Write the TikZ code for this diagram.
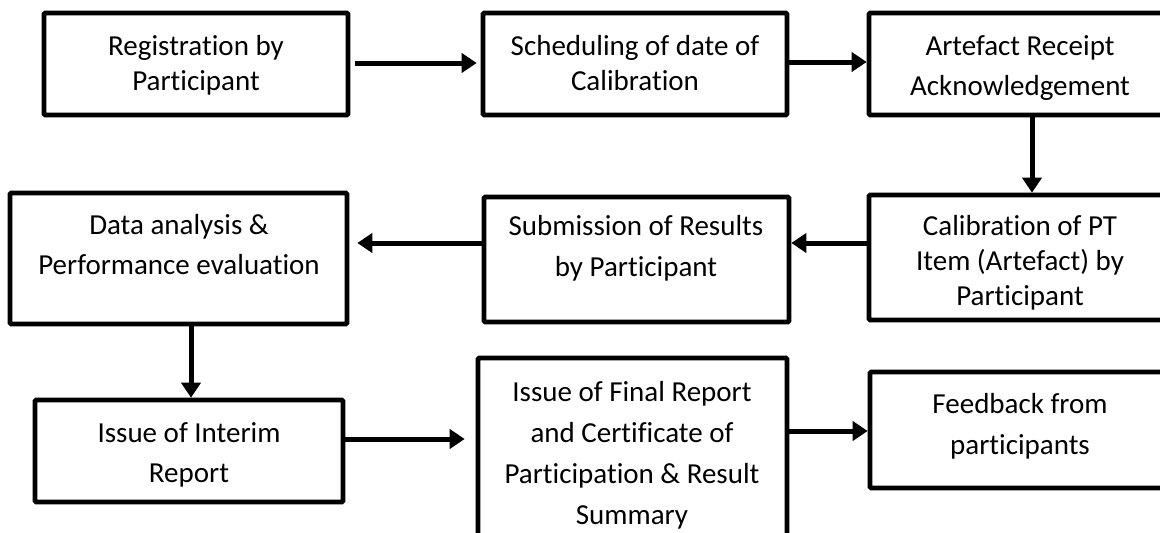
\documentclass[tikz,border=0pt]{standalone}
\usepackage{fontspec}
\setmainfont{Carlito}[RawFeature={-liga}]
\usetikzlibrary{arrows.meta}
\tikzset{
  box/.style={draw=black, line width=4.6pt, rectangle, inner sep=0pt, rounded corners=1.2pt},
  txt/.style={font=\fontsize{29}{35}\selectfont, inner sep=0pt, anchor=base},
  arr/.style={line width=5pt, -{Triangle[length=15pt,width=19pt]}},
}
\begin{document}
\begin{tikzpicture}[x=1pt,y=-1pt]
\path[use as bounding box] (0,0) rectangle (1160,533);
\clip (0,0) rectangle (1160,533);
% boxes
\node[box, minimum width=304pt, minimum height=102pt] (b1) at (196,64) {};
\node[box, minimum width=304pt, minimum height=102pt] (b2) at (635,64) {};
\node[box, minimum width=302pt, minimum height=102pt] (b3) at (1020,64) {};
\node[box, minimum width=302pt, minimum height=125pt] (b4) at (1020,257.5) {};
\node[box, minimum width=305pt, minimum height=125pt] (b5) at (636.5,259.5) {};
\node[box, minimum width=337pt, minimum height=131pt] (b6) at (178.5,258.5) {};
\node[box, minimum width=308pt, minimum height=102pt] (b7) at (189,451) {};
\node[box, minimum width=309pt, minimum height=212pt] (b8) at (632.5,464) {};
\node[box, minimum width=301pt, minimum height=116pt] (b9) at (1020.5,430) {};
% texts
\node[txt] (t1a) at (196,55) {Registration by};
\node[txt] (t1b) at (196,90) {Participant};
\node[txt] (t2a) at (635,55) {Scheduling of date of};
\node[txt] (t2b) at (635,90) {Calibration};
\node[txt] (t3a) at (1020,55) {Artefact Receipt};
\node[txt] (t3b) at (1020,95) {Acknowledgement};
\node[txt] (t4a) at (1020,235) {Calibration of PT};
\node[txt] (t4b) at (1020,270) {Item (Artefact) by};
\node[txt] (t4c) at (1020,305) {Participant};
\node[txt] (t5a) at (636,235) {Submission of Results};
\node[txt] (t5b) at (636,276) {by Participant};
\node[txt] (t6a) at (179,234) {Data analysis \&};
\node[txt] (t6b) at (179,274) {Performance evaluation};
\node[txt] (t7a) at (189,442) {Issue of Interim};
\node[txt] (t7b) at (189,482) {Report};
\node[txt] (t8a) at (632,401) {Issue of Final Report};
\node[txt] (t8b) at (632,442) {and Certificate of};
\node[txt] (t8c) at (632,483) {Participation \& Result};
\node[txt] (t8d) at (632,524) {Summary};
\node[txt] (t9a) at (1020,413) {Feedback from};
\node[txt] (t9b) at (1020,454) {participants};
% connectors
\draw[arr, shorten <=5pt, shorten >=4pt] (b1.east |- 0,63) -- (b2.west |- 0,63);
\draw[arr] (b2.east |- 0,62) -- (b3.west |- 0,62);
\draw[arr] (b3.south -| 1032,0) -- (b4.north -| 1032,0);
\draw[arr] (b4.west |- 0,243) -- (b5.east |- 0,243);
\draw[arr, shorten >=8pt] (b5.west |- 0,243) -- (b6.east |- 0,243);
\draw[arr] (b6.south -| 191,0) -- (b7.north -| 191,0);
\draw[arr, shorten >=11pt] (b7.east |- 0,439) -- (b8.west |- 0,439);
\draw[arr] (b8.east |- 0,431) -- (b9.west |- 0,431);
\end{tikzpicture}
\end{document}
